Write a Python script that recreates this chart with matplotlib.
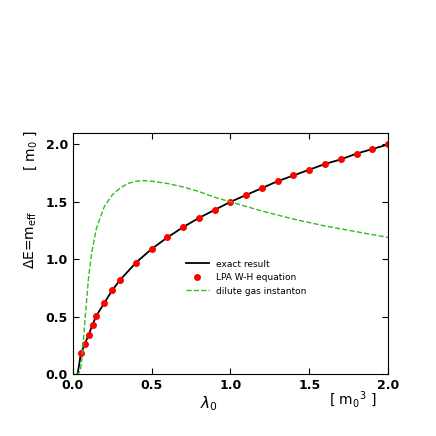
import matplotlib
matplotlib.use("Agg")
import matplotlib.pyplot as plt

lpa_x = [0.05,0.075,0.1,0.125,0.15,0.2,0.25,0.3,0.4,0.5,0.6,0.7,0.8,0.9,1.0,1.1,1.2,1.3,1.4,1.5,1.6,1.7,1.8,1.9,2.0]
lpa_y = [0.18,0.26,0.34,0.43,0.51,0.62,0.73,0.82,0.97,1.09,1.19,1.28,1.36,1.43,1.50,1.56,1.62,1.68,1.73,1.78,1.83,1.87,1.92,1.96,2.00]
exact_x = [0.03,0.04,0.05,0.075,0.1,0.125,0.15,0.2,0.25,0.3,0.4,0.5,0.6,0.7,0.8,0.9,1.0,1.1,1.2,1.3,1.4,1.5,1.6,1.7,1.8,1.9,2.0]
exact_y = [0.0,0.08,0.17,0.26,0.34,0.43,0.51,0.62,0.73,0.82,0.97,1.09,1.19,1.28,1.36,1.43,1.50,1.56,1.62,1.68,1.73,1.78,1.83,1.87,1.92,1.96,2.00]
dil_x = [0.02,0.04,0.05,0.06,0.07,0.08,0.1,0.12,0.15,0.2,0.25,0.3,0.35,0.4,0.45,0.5,0.6,0.7,0.8,0.9,1.0,1.2,1.4,1.6,1.8,2.0]
dil_y = [0.0,0.01,0.05,0.16,0.34,0.52,0.84,1.06,1.27,1.46,1.56,1.62,1.66,1.68,1.685,1.68,1.66,1.63,1.59,1.54,1.50,1.42,1.35,1.29,1.24,1.19]

fig = plt.figure(figsize=(4.36,4.36), dpi=100)
ax = fig.add_axes([0.167,0.142,0.723,0.553])
ax.plot(exact_x, exact_y, color='black', lw=1.3, label='exact result')
ax.plot(lpa_x, lpa_y, 'o', color='red', ms=4, mec='red', label='LPA W-H equation')
ax.plot(dil_x, dil_y, '--', color='#33bb22', lw=1, label='dilute gas instanton')
ax.set_xlim(0,2); ax.set_ylim(0,2.1)
ax.set_xticks([0,0.5,1,1.5,2]); ax.set_yticks([0,0.5,1,1.5,2])
ax.set_xticklabels(['0.0','0.5','1.0','1.5','2.0'], fontweight='bold', fontsize=9)
ax.set_yticklabels(['0.0','0.5','1.0','1.5','2.0'], fontweight='bold', fontsize=9)
ax.tick_params(direction='in', top=True, right=True, length=4)
ax.legend(loc='center', bbox_to_anchor=(0.55,0.4), frameon=False, fontsize=6.5, handlelength=2.5, numpoints=1)
fig.text(0.07,0.45,r'$\Delta$E=m$_{\rm eff}$', rotation=90, ha='center', va='center', fontsize=10)
fig.text(0.07,0.655,r'[ m$_0$ ]', rotation=90, ha='center', va='center', fontsize=10)
fig.text(0.48,0.075,r'$\lambda_0$', ha='center', va='center', fontsize=11)
fig.text(0.81,0.083,r'[ m$_0$$^3$ ]', ha='center', va='center', fontsize=10)
fig.savefig('out.png', dpi=100)
